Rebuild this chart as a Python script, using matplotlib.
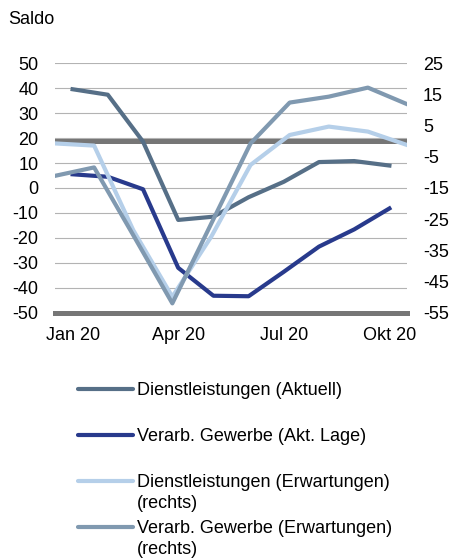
import matplotlib
matplotlib.use("Agg")
import matplotlib.pyplot as plt
from matplotlib.lines import Line2D
import numpy as np

plt.rcParams["font.family"] = ["Liberation Sans", "DejaVu Sans"]

months = ["Jan 20", "Feb 20", "Mrz 20", "Apr 20", "Mai 20", "Jun 20",
          "Jul 20", "Aug 20", "Sep 20", "Okt 20"]
tick_months = ["Jan 20", "Apr 20", "Jul 20", "Okt 20"]

# left axis
dienst_aktuell = [39.6, 37.4, 18.6, -12.8, -11.5, -3.7, 2.5, 10.4, 10.8, 9.0]
verarb_lage = [5.5, 4.5, -0.5, -32.0, -43.2, -43.4, -33.6, -23.5, -16.6, -8.2]
# right axis
dienst_erw = [-0.7, -1.4, -28.5, -49.9, -30.5, -7.6, 2.0, 4.7, 3.1, -1.2]
verarb_erw = [-11.1, -8.4, -30.1, -52.0, -26.3, -0.7, 12.4, 14.3, 17.2, 11.9]

left_ticks = list(range(-50, 51, 10))
right_ticks = list(range(-55, 26, 10))

labels = [
    "Dienstleistungen (Aktuell)",
    "Verarb. Gewerbe (Akt. Lage)",
    "Dienstleistungen (Erwartungen)\n(rechts)",
    "Verarb. Gewerbe (Erwartungen)\n(rechts)",
]
colors = ["#566f87", "#283a8c", "#b5cfe9", "#8099b0"]

FS = 13
W, H = 451, 558
fig = plt.figure(figsize=(W / 100, H / 100), dpi=100)
pos = [55 / W, 1 - 312.7 / H, 352 / W, 249.4 / H]
ax = fig.add_axes(pos)
ax2 = fig.add_axes(pos, frameon=False)

lo, hi = left_ticks[0], left_ticks[-1]
rlo, rhi = right_ticks[0], right_ticks[-1]
ax.set_ylim(lo, hi)
ax2.set_ylim(rlo, rhi)

x = np.arange(len(months))
ax.set_xlim(-0.5, len(months) - 0.5)
ax2.set_xlim(0, len(months) - 1)

for v in left_ticks:
    ax.axhline(v, color="#b3b3b3", lw=0.8, zorder=1)
zero_left = lo + (0 - rlo) * (hi - lo) / (rhi - rlo)
ax.axhline(zero_left, color="#767676", lw=3.6, zorder=2)
ax.axhline(lo, color="#767676", lw=3.6, zorder=2, clip_on=False)

ax.plot(x, dienst_aktuell, color=colors[0], lw=3.0, zorder=3)
ax.plot(x, verarb_lage, color=colors[1], lw=3.0, zorder=3)
ax2.plot(x, dienst_erw, color=colors[2], lw=3.0, zorder=3)
ax2.plot(x, verarb_erw, color=colors[3], lw=3.0, zorder=4)

for s in ax.spines.values():
    s.set_visible(False)
ax.set_yticks(left_ticks)
ax.set_yticklabels([str(v) for v in left_ticks])
ax.set_xticks([months.index(m) for m in tick_months])
ax.set_xticklabels(tick_months)
ax.tick_params(length=0, labelsize=FS, colors="black")
ax.tick_params(axis="y", pad=12)
ax.tick_params(axis="x", pad=10)

ax2.set_xticks([])
ax2.yaxis.tick_right()
ax2.set_yticks(right_ticks)
ax2.set_yticklabels([str(v) for v in right_ticks])
ax2.tick_params(length=0, labelsize=FS, pad=11.5)

fig.text(8 / W, 1 - 20 / H, "Saldo", fontsize=FS, va="center", ha="left")

# legend
leg_y = [389, 435, 481, 527]
for lab, col, y in zip(labels, colors, leg_y):
    fy = 1 - y / H
    fig.add_artist(Line2D([78 / W, 133 / W], [fy, fy], color=col, lw=3.0,
                          solid_capstyle="round"))
    fig.text(137 / W, 1 - (y - 7) / H, lab, fontsize=FS, va="top", ha="left",
             linespacing=1.33)

fig.savefig("out.png", dpi=100, facecolor="white")
